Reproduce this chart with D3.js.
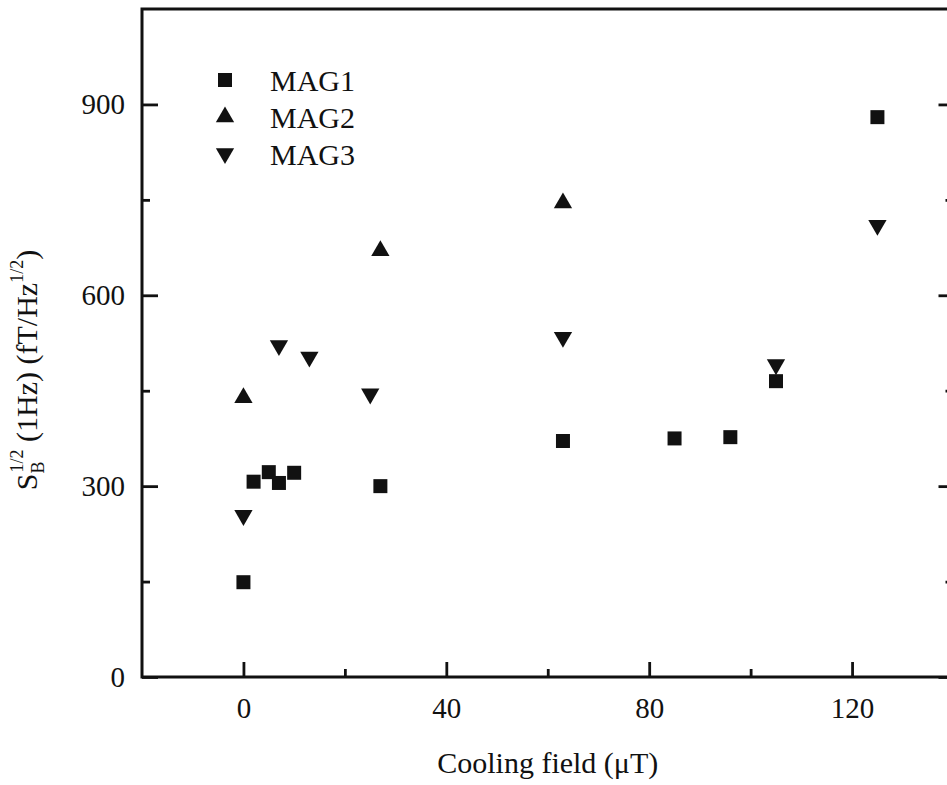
<!DOCTYPE html>
<html><head><meta charset="utf-8">
<script src="https://cdn.jsdelivr.net/npm/d3@7"></script>
<style>
body{margin:0;background:#fff}
svg{display:block}
text{font-family:"Liberation Serif","Times New Roman",serif;fill:#111}
</style>
</head><body><svg id="c" width="947" height="785"></svg>
<script>
// ---- data ----
const seriesNames = ["MAG1", "MAG2", "MAG3"];
const mag1X = [0, 2, 5, 7, 10, 27, 63, 85, 96, 105, 125];
const mag1Y = [149, 307, 322, 305, 321, 300, 371, 375, 377, 465, 880];
const mag2X = [0, 27, 63];
const mag2Y = [439, 670, 745];
const mag3X = [0, 7, 13, 25, 63, 105, 125];
const mag3Y = [254, 521, 503, 445, 534, 491, 710];
const xTicksMajor = [0, 40, 80, 120];
const xTicksMinor = [20, 60, 100];
const yTicksMajor = [0, 300, 600, 900];
const yTicksMinor = [150, 450, 750];
const xLabel = "Cooling field (\u03BCT)";

// ---- layout ----
const svg = d3.select("#c");
const x = d3.scaleLinear().domain([-20, 140]).range([142, 953.5]);
const y = d3.scaleLinear().domain([0, 1050]).range([677, 9]);
const ink = "#111";

// frame
svg.append("rect")
  .attr("x", x(-20)).attr("y", y(1050))
  .attr("width", x(140) - x(-20)).attr("height", y(0) - y(1050))
  .attr("fill", "none").attr("stroke", ink).attr("stroke-width", 3);

function styleAxis(g, fs) {
  g.select(".domain").remove();
  g.selectAll(".tick line").attr("stroke", ink).attr("stroke-width", 2.8);
  g.selectAll(".tick text").attr("fill", ink).style("font-size", fs + "px")
    .style("font-family", '"Liberation Serif","Times New Roman",serif');
}

// bottom axis
svg.append("g").attr("transform", `translate(0,${y(0)})`)
  .call(d3.axisBottom(x).tickValues(xTicksMajor).tickSize(-15).tickPadding(20).tickFormat(d3.format("d")))
  .call(g => styleAxis(g, 29));
svg.append("g").attr("transform", `translate(0,${y(0)})`)
  .call(d3.axisBottom(x).tickValues(xTicksMinor).tickSize(-8).tickFormat(""))
  .call(g => styleAxis(g, 29));

// left axis
svg.append("g").attr("transform", `translate(${x(-20)},0)`)
  .call(d3.axisLeft(y).tickValues(yTicksMajor).tickSize(-16).tickPadding(17).tickFormat(d3.format("d")))
  .call(g => styleAxis(g, 29));
svg.append("g").attr("transform", `translate(${x(-20)},0)`)
  .call(d3.axisLeft(y).tickValues(yTicksMinor).tickSize(-8).tickFormat(""))
  .call(g => styleAxis(g, 29));

// right axis (ticks only)
svg.append("g").attr("transform", `translate(${x(140)},0)`)
  .call(d3.axisRight(y).tickValues(yTicksMajor).tickSize(-15).tickFormat(""))
  .call(g => styleAxis(g, 29));
svg.append("g").attr("transform", `translate(${x(140)},0)`)
  .call(d3.axisRight(y).tickValues(yTicksMinor).tickSize(-8).tickFormat(""))
  .call(g => styleAxis(g, 29));

// markers
const symSquare = d3.symbol().type(d3.symbolSquare).size(196)();
const symTri = d3.symbol().type(d3.symbolTriangle).size(145)();
const series = [
  {name: seriesNames[0], xs: mag1X, ys: mag1Y, path: symSquare, rot: 0},
  {name: seriesNames[1], xs: mag2X, ys: mag2Y, path: symTri, rot: 0},
  {name: seriesNames[2], xs: mag3X, ys: mag3Y, path: symTri, rot: 180}
];
series.forEach(s => {
  svg.append("g").selectAll("path")
    .data(s.xs.map((v, i) => [v, s.ys[i]]))
    .join("path")
    .attr("d", s.path)
    .attr("fill", ink)
    .attr("transform", d => `translate(${x(d[0])},${y(d[1])}) rotate(${s.rot})`);
});

// legend
const ly = d3.scaleLinear().domain([0, 1]).range([80, 117]);
const lg = svg.append("g");
series.forEach((s, i) => {
  const cy = i === 2 ? ly(i) - 0.5 : ly(i);
  lg.append("path").attr("d", s.path).attr("fill", ink)
    .attr("transform", `translate(225,${cy}) rotate(${s.rot})`);
  lg.append("text").attr("x", 270).attr("y", ly(i)).attr("dy", "0.35em")
    .style("font-size", "30px").text(s.name);
});

// x axis title
svg.append("text").attr("x", (x(-20) + x(140)) / 2).attr("y", 773)
  .attr("text-anchor", "middle").style("font-size", "30px").text(xLabel);

// y axis title
const yt = svg.append("text")
  .attr("transform", "translate(37,370) rotate(-90)")
  .attr("text-anchor", "middle").style("font-size", "30px");
yt.append("tspan").text("S");
yt.append("tspan").attr("dy", 7).style("font-size", "18px").text("B");
yt.append("tspan").attr("dx", -11).attr("dy", -21).style("font-size", "18px").text("1/2");
yt.append("tspan").attr("dy", 14).text(" (1Hz) (fT/Hz");
yt.append("tspan").attr("dy", -14).style("font-size", "18px").text("1/2");
yt.append("tspan").attr("dy", 14).text(")");
</script>
</body></html>
